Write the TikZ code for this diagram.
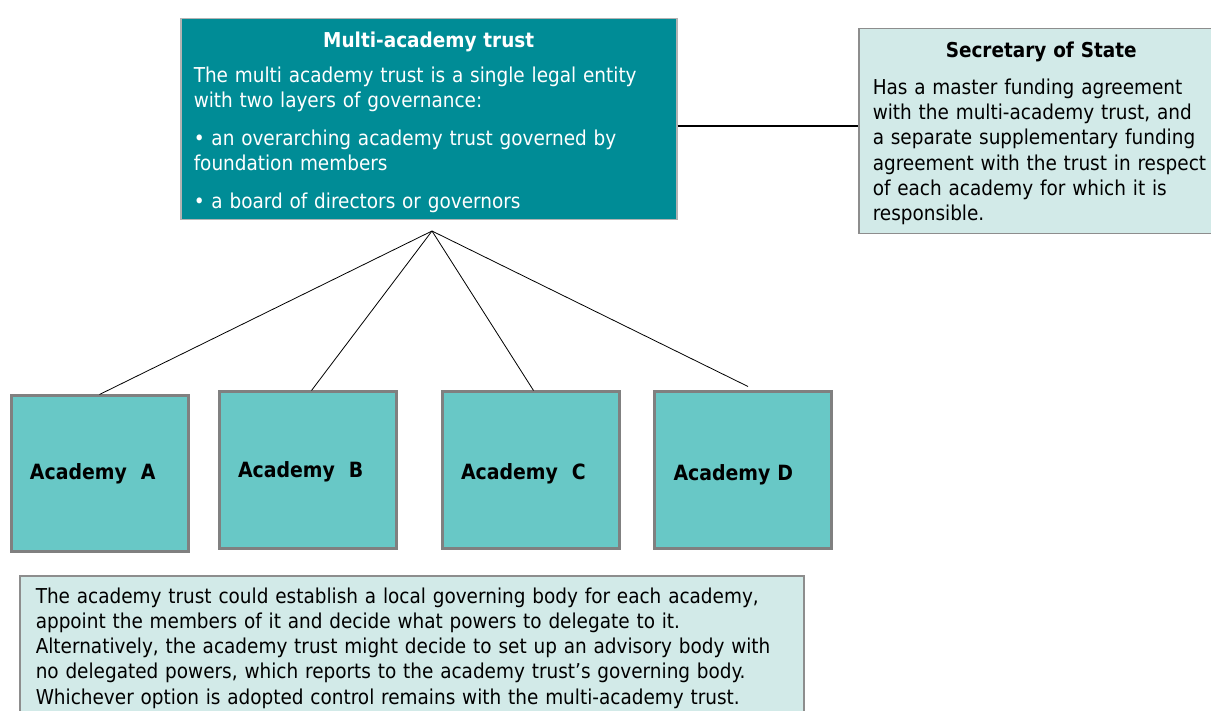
\documentclass[tikz,border=0pt]{standalone}
\usepackage{fontspec}
\setmainfont{DejaVu Sans Condensed}
\usetikzlibrary{calc,positioning}
\definecolor{trustteal}{RGB}{0,140,150}
\definecolor{academyteal}{RGB}{104,200,198}
\definecolor{palemint}{RGB}{210,234,232}
\definecolor{boxgrey}{RGB}{128,128,128}
\tikzstyle{trustbox}=[draw=boxgrey!60,line width=1.5pt,fill=trustteal,text=white,rectangle,anchor=north west,minimum height=201pt,inner xsep=13pt,text width=470pt,align=left,font=\fontsize{20.5}{25}\selectfont]
\tikzstyle{notebox}=[draw=boxgrey!90,line width=1.5pt,fill=palemint,rectangle,anchor=north west,inner xsep=14pt,align=left,font=\fontsize{20.5}{25.2}\selectfont]
\tikzstyle{academy}=[draw=boxgrey,line width=3pt,fill=academyteal,rectangle,minimum width=177pt,minimum height=155pt,inner xsep=19pt,text width=139pt,align=left,font=\fontsize{21}{24}\selectfont\bfseries]

\begin{document}
\begin{tikzpicture}[x=1pt,y=-1pt,thick]
\useasboundingbox (0,0) rectangle (1211,711);
\draw (180,18) node [trustbox] (trust) {{\centering\bfseries\rule{0pt}{21.6pt}Multi-academy trust\par}\vspace{10pt}
The multi academy trust is a single legal entity\\with two layers of governance:\par\vspace{13pt}
• an overarching academy trust governed by\\foundation members\par\vspace{13pt}
• a board of directors or governors};
\draw (858,28) node [notebox,minimum height=205pt,text width=337pt] (sos) {{\centering\bfseries\rule{0pt}{19.6pt}Secretary of State\par}\vspace{12pt}
Has a master funding agreement\\with the multi-academy trust, and\\a separate supplementary funding\\agreement with the trust in respect\\of each academy for which it is\\responsible.};
\draw (19,575) node [notebox,inner xsep=16pt,inner ysep=12pt,text width=752pt] (local) {The academy trust could establish a local governing body for each academy,\\appoint the members of it and decide what powers to delegate to it.\\Alternatively, the academy trust might decide to set up an advisory body with\\no delegated powers, which reports to the academy trust’s governing body.\\Whichever option is adopted control remains with the multi-academy trust.};
\draw (99.5,473.5) node [academy] (acA) {Academy~~A};
\draw (307.5,470) node [academy,minimum height=156pt] (acB) {\rule{0pt}{20pt}Academy~~B};
\draw (530.5,470) node [academy,minimum height=156pt] (acC) {\rule{0pt}{24pt}Academy~~C};
\draw (743,470) node [academy,minimum height=156pt] (acD) {\rule{0pt}{26pt}Academy D};
\coordinate (hub) at (432,231);
\draw[line width=2pt] ([yshift=-6.5pt]trust.east) -- ([yshift=-6.5pt]trust.east -| sos.west);
\draw (hub) -- (acA.north);
\draw (hub) -- ([xshift=4pt]acB.north);
\draw (hub) -- ([xshift=3pt]acC.north);
\draw (hub) -- ([xshift=5pt,yshift=4pt]acD.north);
\end{tikzpicture}
\end{document}
